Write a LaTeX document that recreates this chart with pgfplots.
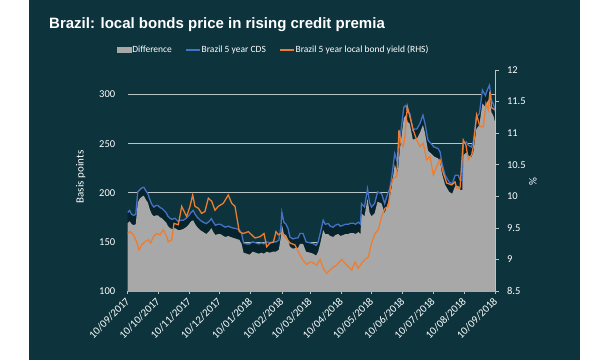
\documentclass[border=0pt]{standalone}
\usepackage{pgfplots}
\pgfplotsset{compat=1.18}
\usepackage{pgfplotstable}
\usepackage{fontspec}
\setmainfont{Carlito}
\newfontfamily\titlefont{Liberation Sans}
\definecolor{bg}{RGB}{13,51,61}
\definecolor{band}{RGB}{7,35,43}
\definecolor{cdsblue}{HTML}{4472C4}
\definecolor{ylorange}{HTML}{ED7D31}
\definecolor{diffgray}{HTML}{A8A8A8}
\definecolor{gridgray}{HTML}{B8C4C6}
\definecolor{axisgray}{HTML}{B8C4C6}

\pgfplotstableread{
day cds diff
0 180 169
2 182 171
4 178 168
6 177 167
8 178 168
10 201 190
12 203 194
14 205 196
16 205.6 197
18 202 193
20 199 190
22 193 183
24 188 178
26 185.5 176
28 187 177
30 187 177
32 185 175
34 184 174
36 182 172
38 180 170
40 176 166
42 174 164
44 173 163
47 174 164
50 171 162
52 172 162
55 172 163
58 174 165
60 176 167
63 180 171
65 182 172
67 178 168
69 175 165
72 172 162
75 170 160
78 168.6 158
81 171 161
83 173.7 164
85 170 160
87 167 157
90 168 158
92 168 158
95 166 156
97 165 155
100 166 156
102 165 155
105 164 154
108 163.5 153
111 162 152
113 158.5 148
115 149 139
118 148 138
121 148 137
124 150 140
127 149 139
130 148 138
133 149 139
135 148 138
138 150 140
141 149 139
144 150 140
147 150 140
150 151.6 142
152 165 155
153 180 168
155 170 158
157 168 157
159 164 153
161 155 145
164 153 143
167 154 144
169 154 144
171 158.5 148
174 158.5 148
177 150 140
181 149 139
184 148.3 138
187 146.5 136
189 150 140
191 158.5 148
194 172 162
196 168 158
199 168.6 158
201 166 156
204 165 155
206 167 157
209 168 158
211 166 156
214 167 157
216 168 158
219 168 158
221 169 159
224 169 159
226 168 158
229 170 160
231 168 158
232 189 179
235 185.5 176
238 204 194
240 190 180
242 185.5 176
245 189 179
248 200.8 191
252 199 189
255 189 179
258 199 189
260 204 194
262 216 206
265 240 229
268 229.7 220
270 253.5 243
272 270 260
274 287 276
276 289 279
278 282 272
280 280.6 270
283 263.6 254
285 265 255
287 265 255
290 270.5 261
293 279 269
295 270.5 261
298 253.5 243
301 250 240
304 246.6 237
308 245 235
310 241.6 231
312 229.7 219
315 217.8 208
319 211 201
322 209 199
325 217.8 207
328 217.8 207
330 212.7 203
332 212.7 203
333 250 238
336 251.7 241
338 248.4 238
341 246.6 236
343 251.7 241
346 277 265
349 280.6 269
352 304.5 291
355 299 287
357 305 293
359 309.5 296
361 294 282
363 290 278
365 282 270
}\cdstable

\pgfplotstableread{
day yld
0 9.41
2.3 9.44
5.6 9.39
8.9 9.28
11.2 9.15
13.9 9.23
17.2 9.28
20.4 9.31
22.8 9.26
25.4 9.36
28.8 9.41
32 9.39
35.3 9.47
38.7 9.36
40.3 9.28
43.7 9.31
45.9 9.57
50.2 9.55
53.6 9.84
56.9 9.73
58.5 9.68
61.8 9.84
64.5 10.02
66.8 9.84
70.1 9.81
73.4 9.73
76.7 9.76
80 9.97
83.4 9.92
86.6 9.78
89.9 9.84
94.9 9.89
99.8 10.02
103.2 9.89
106.5 9.84
110.7 9.44
114.7 9.41
119.7 9.44
123 9.39
126.3 9.34
131.3 9.36
135.3 9.41
137.9 9.2
141.2 9.26
144.5 9.27
147.2 9.44
149.5 9.39
152.8 9.42
156.1 9.36
161.1 9.26
166 9.23
169.3 9.12
174.3 8.98
177.6 8.92
181 8.96
182.6 8.96
187.6 8.91
190.9 9.0
194.1 8.86
197.5 8.78
202.4 8.86
207.4 8.91
212.4 9.0
215.6 8.94
218.9 8.89
222.3 8.83
225.6 8.96
228.8 8.86
232.2 8.94
235.5 9.0
238.8 9.04
242.1 9.26
245.4 9.41
248.7 9.47
252 9.68
255.3 9.81
258.6 9.84
261 10.15
263.6 10.29
267 10.31
269.2 11.05
271.2 10.84
273.5 10.79
275.2 10.95
277.5 11.42
280.1 11.26
283.4 11.05
286.8 10.89
290.1 10.79
293.3 10.84
296.7 10.58
300 10.63
303.3 10.34
306.6 10.47
309.9 10.58
313.2 10.37
316.6 10.21
321.5 10.18
324.8 10.23
326.5 10.13
329.8 10.13
333 10.89
335.7 10.81
338 10.58
341.4 10.66
343 10.79
346.3 11.29
349.6 11.1
352.9 11.1
355.6 11.47
357.8 11.37
359.5 11.66
361.2 11.4
364.5 11.37
}\yldtable

\begin{document}
\begin{tikzpicture}[x=1pt,y=1pt]
\useasboundingbox (0,0) rectangle (600,360);
\fill[white] (0,0) rectangle (600,360);
\fill[bg] (29,0) rectangle (580,360);
\node[anchor=base west, text=white, inner sep=0pt,
  font=\titlefont\bfseries\fontsize{15}{18}\selectfont] at (49,331.7)
  {Brazil: local bonds price in rising credit premia};

\begin{axis}[
  at={(127.7pt,69pt)}, anchor=south west, scale only axis,
  width=367.8pt, height=221pt,
  xmin=0, xmax=365, ymin=100, ymax=325,
  axis y line*=left, axis x line*=bottom,
  x axis line style={draw=axisgray, line width=0.8pt, -},
  y axis line style={draw=none},
  xtick={0,30,61,91,122,153,181,212,242,273,303,334,365},
  xticklabels={10/09/2017,10/10/2017,10/11/2017,10/12/2017,10/01/2018,10/02/2018,10/03/2018,10/04/2018,10/05/2018,10/06/2018,10/07/2018,10/08/2018,10/09/2018},
  xtick style={draw=axisgray, line width=0.6pt},
  tick align=outside, major tick length=3pt,
  ytick={100,150,200,250,300},
  yticklabels={100,150,200,250,300},
  ytick style={draw=none},
  ymajorgrids, grid style={draw=gridgray, line width=0.7pt},
  xticklabel style={text=white, font=\fontsize{10.8}{12}\selectfont, rotate=45, anchor=east, xshift=-0.5pt, yshift=-4pt},
  yticklabel style={text=white, font=\fontsize{10.5}{12}\selectfont, xshift=-6pt},
  ylabel={Basis points},
  every axis y label/.style={at={(axis description cs:-0.128,0.516)}, rotate=90, anchor=center, text=white, font=\fontsize{11}{13}\selectfont},
]
\addplot[fill=band, draw=none] table[x=day, y=cds] {\cdstable} \closedcycle;
\addplot[fill=diffgray, draw=none] table[x=day, y=diff] {\cdstable} \closedcycle;
\addplot[cdsblue, line width=1.3pt] table[x=day, y=cds] {\cdstable};
\end{axis}

\begin{axis}[
  at={(127.7pt,69pt)}, anchor=south west, scale only axis,
  width=367.8pt, height=221pt,
  xmin=0, xmax=365, ymin=8.5, ymax=12,
  axis y line*=right, axis x line=none,
  y axis line style={draw=axisgray, line width=0.8pt, -},
  ytick={8.5,9,9.5,10,10.5,11,11.5,12},
  yticklabels={8.5,9,9.5,10,10.5,11,11.5,12},
  ytick style={draw=axisgray, line width=0.6pt},
  tick align=outside, major tick length=3pt,
  yticklabel style={text=white, font=\fontsize{10.5}{12}\selectfont, xshift=5pt},
  ylabel={\%},
  every axis y label/.style={at={(axis description cs:1.102,0.495)}, rotate=90, anchor=center, text=white, font=\fontsize{11}{13}\selectfont},
  legend style={at={(0.3955,1.0905)}, anchor=center, draw=none, fill=none,
    text=white, font=\fontsize{9.5}{11}\selectfont, legend columns=3,
    /tikz/every even column/.append style={column sep=12pt},
    nodes={inner sep=1.2pt}},
]
\addlegendimage{legend image code/.code={\fill[diffgray] (0pt,-2.5pt) rectangle (14pt,2.5pt);}}
\addlegendentry{Difference}
\addlegendimage{legend image code/.code={\draw[cdsblue, line width=1.3pt] (0pt,0pt) -- (14pt,0pt);}}
\addlegendentry{Brazil 5 year CDS\hspace{10pt}}
\addplot[ylorange, line width=1.3pt,
  legend image code/.code={\draw[ylorange, line width=1.3pt] (0pt,0pt) -- (14pt,0pt);}]
  table[x=day, y=yld] {\yldtable};
\addlegendentry{Brazil 5 year local bond yield (RHS)}
\end{axis}
\end{tikzpicture}
\end{document}
